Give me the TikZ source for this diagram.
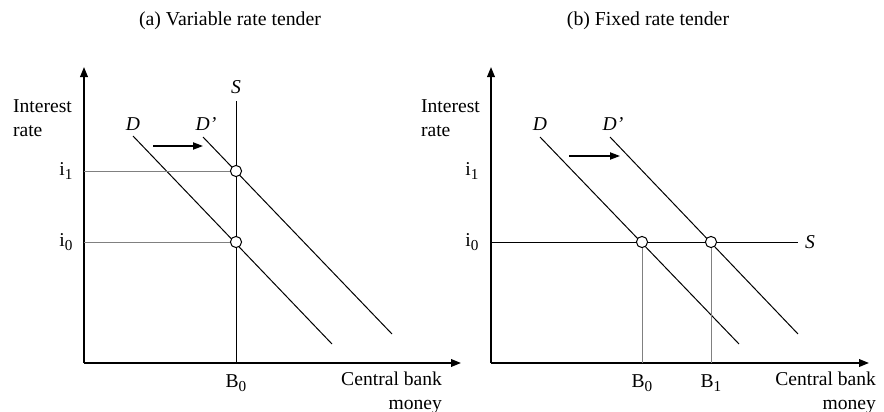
\documentclass[tikz,border=0pt]{standalone}
\usepackage{fontspec}
\setmainfont{Liberation Serif}
\usetikzlibrary{arrows.meta,positioning}
\newcommand\lowsub[1]{\raisebox{-0.5ex}{\fontsize{7.6}{8}\selectfont #1}}

\begin{document}
\begin{tikzpicture}[
  x=0.5pt,y=-0.5pt,
  font=\fontsize{9.8}{12}\selectfont,
  axis/.style={-{Triangle[length=5pt,width=3.8pt]},line width=0.9pt},
  curve/.style={line width=0.5pt},
  guide/.style={gray,line width=0.5pt},
  shiftarr/.style={-{Triangle[length=5pt,width=3.6pt]},line width=0.7pt},
  eq/.style={circle,draw,fill=white,inner sep=0pt,minimum size=5.6pt,line width=0.5pt},
  curvelabel/.style={font=\fontsize{9.8}{12}\selectfont\itshape},
  title/.style={font=\fontsize{9.9}{12}\selectfont},
]
\useasboundingbox (0,0) rectangle (884,412);

%% ---- Titles ----------------------------------------------------------------
\node[title] (atitle) at (230,21) {(a) Variable rate tender};
\node[title] (btitle) at (648,21) {(b) Fixed rate tender};

%% ---- (a) Axes --------------------------------------------------------------
\coordinate (aO) at (84,363);
\coordinate (aY) at (84,67);
\coordinate (aX) at (461,363);
\draw[axis] (aO) -- (aY);
\draw[axis] (aO) -- (aX);
\node[anchor=west,align=left] (ayl) at (6,118) {Interest\\rate};
\node[anchor=east,align=right] (axl) at (449,393) {Central bank\\money};

%% ---- (a) Supply (vertical) -------------------------------------------------
\coordinate (aStop) at (236,101);
\coordinate (aSbot) at (236,363);
\draw[curve] (aStop) -- (aSbot);
\node[curvelabel,above=0pt of aStop] (aSl) {S};

%% ---- (a) Demand D and D' ---------------------------------------------------
\coordinate (aDtop) at (133,136);
\coordinate (aDbot) at (332,344);
\coordinate (aDDtop) at (203,137);
\coordinate (aDDbot) at (392,334);
\draw[curve] (aDtop) -- (aDbot);
\draw[curve] (aDDtop) -- (aDDbot);
\node[curvelabel] (aDl) at (133,124) {D};
\node[curvelabel] (aDDl) at (206,124) {D’};

%% ---- (a) Shift arrow
\coordinate (aA1) at (153,146);
\coordinate (aA2) at (203,146);
\draw[shiftarr] (aA1) -- (aA2);

%% ---- (a) Equilibria and guides
\node[eq] (aE1) at (236,171) {};
\node[eq] (aE0) at (236,242) {};
\draw[guide] (aO |- aE1) -- (aE1);
\draw[guide] (aO |- aE0) -- (aE0);
\node (ai1) at (66,171) {i\lowsub{1}};
\node (ai0) at (66,242) {i\lowsub{0}};
\node (aB0) at (236,383) {B\lowsub{0}};

%% ---- (b) Axes --------------------------------------------------------------
\coordinate (bO) at (491,363);
\coordinate (bY) at (491,67);
\coordinate (bX) at (869,363);
\draw[axis] (bO) -- (bY);
\draw[axis] (bO) -- (bX);
\node[anchor=west,align=left] (byl) at (414,118) {Interest\\rate};
\node[anchor=east,align=right] (bxl) at (883,393) {Central bank\\money};

%% ---- (b) Supply (horizontal) -----------------------------------------------
\coordinate (bSend) at (798,242);
\draw[curve] (bO |- bSend) -- (bSend);
\node[curvelabel,right=0pt of bSend] (bSl) {S};

%% ---- (b) Demand D and D' ---------------------------------------------------
\coordinate (bDtop) at (540,137);
\coordinate (bDbot) at (739,344);
\coordinate (bDDtop) at (610,137);
\coordinate (bDDbot) at (798,334);
\draw[curve] (bDtop) -- (bDbot);
\draw[curve] (bDDtop) -- (bDDbot);
\node[curvelabel] (bDl) at (540,124) {D};
\node[curvelabel] (bDDl) at (613,124) {D’};

%% ---- (b) Shift arrow
\coordinate (bA1) at (569,156);
\coordinate (bA2) at (620,156);
\draw[shiftarr] (bA1) -- (bA2);

%% ---- (b) Equilibria and guides
\node[eq] (bE0) at (642,242) {};
\node[eq] (bE1) at (711,242) {};
\draw[guide] (bE0) -- (bE0 |- bO);
\draw[guide] (bE1) -- (bE1 |- bO);
\node (bi1) at (472,171) {i\lowsub{1}};
\node (bi0) at (472,242) {i\lowsub{0}};
\node (bB0) at (642,383) {B\lowsub{0}};
\node (bB1) at (711,383) {B\lowsub{1}};

\end{tikzpicture}
\end{document}
